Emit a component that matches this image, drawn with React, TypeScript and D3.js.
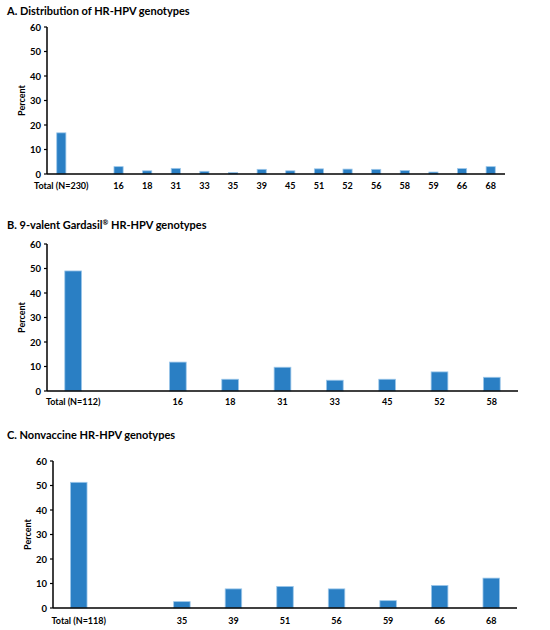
import { useEffect, useRef } from 'react';
import * as d3 from 'd3';

// panel A
const allGenotypes = ['Total (N=230)', '', '16', '18', '31', '33', '35', '39', '45', '51', '52', '56', '58', '59', '66', '68'];
const allPercent = [16.8, 0, 3.0, 1.3, 2.3, 1.1, 0.6, 1.9, 1.3, 2.1, 2.0, 1.9, 1.4, 0.8, 2.2, 3.0];

// panel B
const gardasilGenotypes = ['Total (N=112)', '', '16', '18', '31', '33', '45', '52', '58'];
const gardasilPercent = [49.0, 0, 11.8, 4.8, 9.7, 4.4, 4.8, 7.8, 5.6];

// panel C
const nonvaccineGenotypes = ['Total (N=118)', '', '35', '39', '51', '56', '59', '66', '68'];
const nonvaccinePercent = [51.3, 0, 2.6, 7.8, 8.8, 7.8, 3.0, 9.2, 12.2];

const yTicks = [0, 10, 20, 30, 40, 50, 60];

const FONT = "Lato, 'Open Sans', sans-serif";
const BAR = '#2a7fc4';
const BAR_EDGE = '#9cc7ea';

interface PanelProps {
  title: string;
  sup?: string;
  titleEnd?: string;
  labels: string[];
  values: number[];
  top: number; // y of the title baseline
  y60: number;
  y0: number;
  left: number;
  right: number;
  labelY: number;
  percentX: number;
}

const panels: PanelProps[] = [
  { title: 'A. Distribution of HR-HPV genotypes', labels: allGenotypes, values: allPercent, top: 15, y60: 27, y0: 174, left: 47, right: 505, labelY: 189, percentX: 25 },
  { title: 'B. 9-valent Gardasil', sup: '®', titleEnd: ' HR-HPV genotypes', labels: gardasilGenotypes, values: gardasilPercent, top: 229, y60: 244, y0: 391, left: 47, right: 518, labelY: 405, percentX: 25 },
  { title: 'C. Nonvaccine HR-HPV genotypes', labels: nonvaccineGenotypes, values: nonvaccinePercent, top: 439, y60: 461, y0: 608, left: 53, right: 517, labelY: 624, percentX: 31 },
];

export default function App() {
  const svgRef = useRef<SVGSVGElement>(null);

  useEffect(() => {
    if (!svgRef.current) return;
    const svg = d3.select(svgRef.current);
    svg.selectAll('*').remove();

    panels.forEach((p) => {
      const g = svg.append('g');

      const t = g.append('text')
        .attr('x', 7)
        .attr('y', p.top)
        .style('font-family', FONT)
        .style('font-size', '11px')
        .style('font-weight', 700);
      t.append('tspan').text(p.title);
      if (p.sup) {
        t.append('tspan').attr('dy', -4).style('font-size', '7px').text(p.sup);
        t.append('tspan').attr('dy', 4).text(p.titleEnd || '');
      }

      const x = d3.scaleBand().domain(p.labels.map((_, i) => String(i))).range([p.left, p.right]).paddingInner(0.68).paddingOuter(0.34);
      const y = d3.scaleLinear().domain([0, 60]).range([p.y0, p.y60]);

      // y axis
      g.append('line')
        .attr('x1', p.left).attr('x2', p.left)
        .attr('y1', y(60)).attr('y2', y(0))
        .attr('stroke', '#000').attr('stroke-width', 1.5);

      g.selectAll('.ytick')
        .data(yTicks)
        .enter()
        .append('line')
        .attr('x1', p.left - 3).attr('x2', p.left)
        .attr('y1', (d) => y(d)).attr('y2', (d) => y(d))
        .attr('stroke', '#000').attr('stroke-width', 1.2);

      g.selectAll('.ylab')
        .data(yTicks)
        .enter()
        .append('text')
        .attr('x', p.left - 6)
        .attr('y', (d) => y(d))
        .attr('text-anchor', 'end')
        .attr('dominant-baseline', 'central')
        .style('font-family', FONT)
        .style('font-size', '9.5px')
        .style('font-weight', 700)
        .text((d) => d);

      g.append('text')
        .attr('transform', `translate(${p.percentX},${(y(0) + y(60)) / 2}) rotate(-90)`)
        .attr('text-anchor', 'middle')
        .style('font-family', FONT)
        .style('font-size', '9px')
        .style('font-weight', 700)
        .text('Percent');

      // bars
      g.selectAll('.bar')
        .data(p.values.map((v, i) => ({ v, i })).filter((d) => p.labels[d.i] !== ''))
        .enter()
        .append('rect')
        .attr('x', (d) => x(String(d.i)) || 0)
        .attr('y', (d) => y(d.v))
        .attr('width', x.bandwidth())
        .attr('height', (d) => y(0) - y(d.v))
        .attr('fill', BAR)
        .attr('stroke', BAR_EDGE)
        .attr('stroke-width', 0.8);

      // x axis
      g.append('line')
        .attr('x1', p.left).attr('x2', p.right)
        .attr('y1', y(0)).attr('y2', y(0))
        .attr('stroke', '#000').attr('stroke-width', 1.5);

      g.selectAll('.xlab')
        .data(p.labels)
        .enter()
        .append('text')
        .attr('x', (_, i) => (x(String(i)) || 0) + x.bandwidth() / 2)
        .attr('y', p.labelY)
        .attr('text-anchor', 'middle')
        .style('font-family', FONT)
        .style('font-size', '9px')
        .style('font-weight', 700)
        .text((d) => d);
    });
  }, []);

  return (
    <svg
      ref={svgRef}
      width={550}
      height={630}
      style={{ position: 'absolute', left: 0, top: 0, background: '#fff' }}
    />
  );
}
